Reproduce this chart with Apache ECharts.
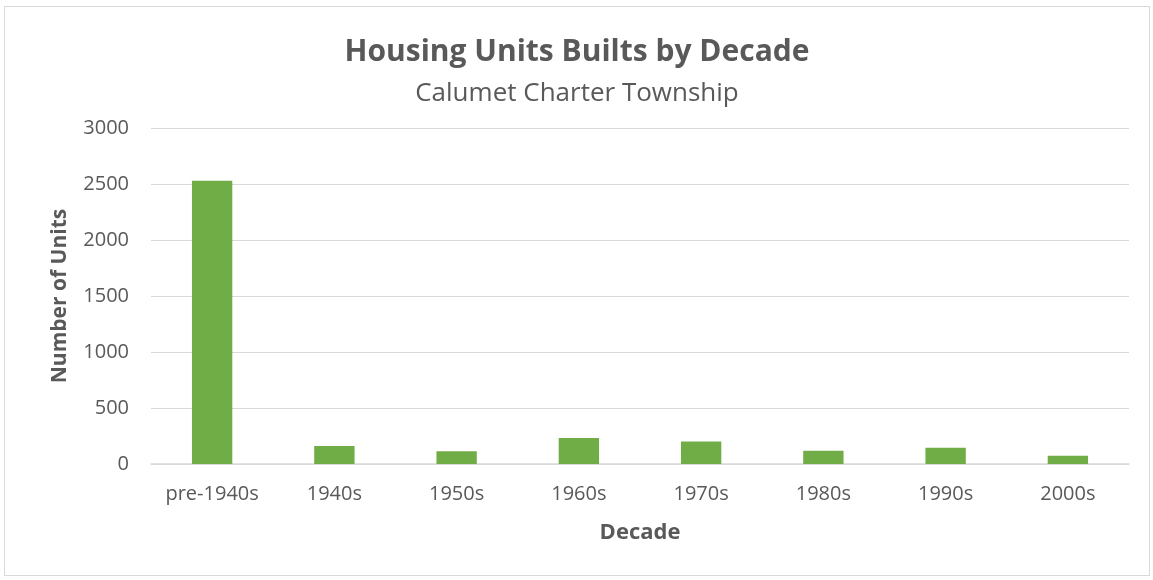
<!DOCTYPE html>
<html>
<head>
<meta charset="utf-8">
<script src="https://cdn.jsdelivr.net/npm/echarts@6/dist/echarts.min.js"></script>
<style>
  html, body { margin: 0; padding: 0; background: #fff; }
  #chart { position: absolute; left: 4px; top: 6px; width: 1146px; height: 570px;
           border: 1px solid #d9d9d9; box-sizing: border-box; }
</style>
</head>
<body>
<div id="chart"></div>
<script>
var decades = ['pre-1940s', '1940s', '1950s', '1960s', '1970s', '1980s', '1990s', '2000s'];
var units = [2530, 160, 113, 233, 200, 119, 146, 74];
var yTicks = [0, 500, 1000, 1500, 2000, 2500, 3000];

var chart = echarts.init(document.getElementById('chart'));
var font = '"Open Sans", "Noto Sans", sans-serif';
chart.setOption({
  animation: false,
  title: {
    left: 'center',
    top: 25,
    text: 'Housing Units Builts by Decade',
    textStyle: { fontFamily: font, fontSize: 30, fontWeight: 'bold', color: '#595959' },
    subtext: 'Calumet Charter Township',
    itemGap: 14,
    subtextStyle: { fontFamily: font, fontSize: 26, color: '#595959' }
  },
  grid: { left: 146, right: 20, top: 121, bottom: 111 },
  xAxis: {
    type: 'category',
    data: decades,
    name: 'Decade',
    nameLocation: 'middle',
    nameGap: 58,
    nameTextStyle: { fontFamily: font, fontSize: 22, fontWeight: 'bold', color: '#595959' },
    axisLine: { lineStyle: { color: '#d9d9d9', width: 1.5 } },
    axisTick: { show: false },
    axisLabel: { fontFamily: font, fontSize: 20, color: '#595959', margin: 20 }
  },
  yAxis: {
    type: 'value',
    min: yTicks[0],
    max: yTicks[yTicks.length - 1],
    interval: 500,
    name: 'Number of Units',
    nameLocation: 'middle',
    nameGap: 80,
    nameTextStyle: { fontFamily: font, fontSize: 21, fontWeight: 'bold', color: '#595959' },
    axisLine: { show: false },
    axisTick: { show: false },
    splitLine: { lineStyle: { color: '#d9d9d9', width: 1.2 } },
    axisLabel: {
      fontFamily: font, fontSize: 20, color: '#595959', margin: 22,
      formatter: function (v) { return String(v); }
    }
  },
  series: [{
    type: 'bar',
    data: units,
    barWidth: '33%',
    itemStyle: { color: '#70ad47' }
  }]
});
</script>
</body>
</html>
